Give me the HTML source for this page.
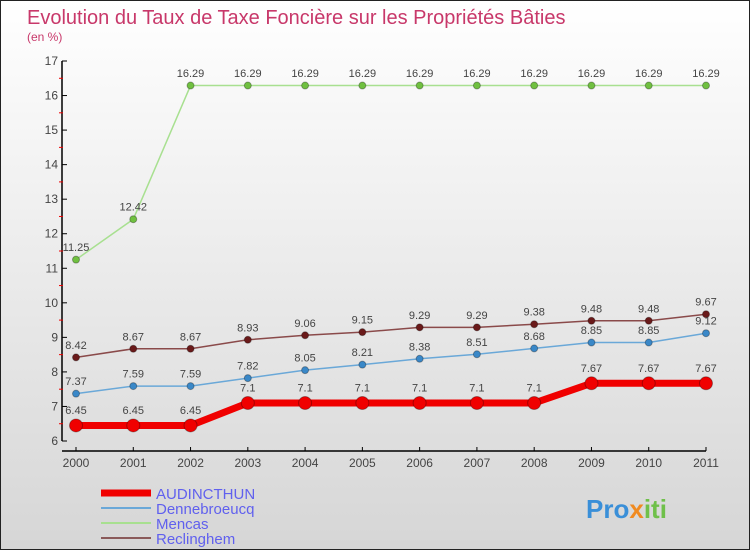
<!DOCTYPE html>
<html><head><meta charset="utf-8"><style>
body{margin:0}
#c{width:750px;height:550px;position:relative;background:linear-gradient(#ffffff,#d6d6d6);box-sizing:border-box;border:1px solid #222;font-family:"Liberation Sans",sans-serif}
</style></head><body>
<div id="c">
<svg id="s" width="750" height="550" style="position:absolute;left:0;top:0">
<text x="26" y="23" font-size="20" fill="#c8386a">Evolution du Taux de Taxe Foncière sur les Propriétés Bâties</text>
<text x="26" y="40" font-size="12" fill="#c8386a">(en %)</text>
<text x="585" y="517" font-size="26" font-weight="bold" fill="#3a8fd8">Pro<tspan fill="#f08a20">x</tspan><tspan fill="#6fc04a">iti</tspan></text>
</svg>
</div>
<script>
const years=["2000","2001","2002","2003","2004","2005","2006","2007","2008","2009","2010","2011"];
const yTicks=[6,7,8,9,10,11,12,13,14,15,16,17];
const audincthun=[6.45,6.45,6.45,7.1,7.1,7.1,7.1,7.1,7.1,7.67,7.67,7.67];
const dennebroeucq=[7.37,7.59,7.59,7.82,8.05,8.21,8.38,8.51,8.68,8.85,8.85,9.12];
const mencas=[11.25,12.42,16.29,16.29,16.29,16.29,16.29,16.29,16.29,16.29,16.29,16.29];
const reclinghem=[8.42,8.67,8.67,8.93,9.06,9.15,9.29,9.29,9.38,9.48,9.48,9.67];
const svg=document.getElementById('s');const NS='http://www.w3.org/2000/svg';
const X=i=>75+i*(630/(years.length-1));
const Y=v=>440-(v-6)*(380/11);
function mk(t,a,p){const e=document.createElementNS(NS,t);for(const k in a)e.setAttribute(k,a[k]);(p||svg).appendChild(e);return e;}
let e;
e=mk('line',{x1:61,y1:60,x2:61,y2:440,stroke:'#000','stroke-width':1.5});


e=mk('line',{x1:61,y1:450,x2:705,y2:450,stroke:'#000','stroke-width':1.5});


yTicks.forEach(v=>{mk('line',{x1:61,y1:Y(v),x2:66,y2:Y(v),stroke:'#000'});
 if(v<17)mk('line',{x1:58,y1:Y(v+0.5),x2:62,y2:Y(v+0.5),stroke:'#e00'});
 e=mk('text',{x:57,y:Y(v)+4,'font-size':12,fill:'#444','text-anchor':'end'});e.textContent=v;
 
 });
years.forEach((y,i)=>{mk('line',{x1:X(i),y1:446,x2:X(i),y2:450,stroke:'#000'});
 e=mk('text',{x:X(i),y:466,'font-size':12,fill:'#444','text-anchor':'middle'});e.textContent=y;
 
 });
function series(d,color,dot,w,r,name){
 e=mk('polyline',{points:d.map((v,i)=>X(i)+','+Y(v)).join(' '),fill:'none',stroke:color,'stroke-width':w});
 
 
 d.forEach((v,i)=>{e=mk('circle',{cx:X(i),cy:Y(v),r:r,fill:dot,stroke:'rgba(0,0,0,0.3)'});
  
  
  e=mk('text',{x:X(i),y:Y(v)-r-5,'font-size':11,fill:'#444','text-anchor':'middle'});e.textContent=v;
  
  });
}
series(mencas,'#a8e090','#70c040',1.5,3.5,'mencas');
series(reclinghem,'#8a4a4a','#6a1a1a',1.5,3.5,'reclinghem');
series(dennebroeucq,'#6aa8d8','#3a88c8',1.5,3.5,'dennebroeucq');
series(audincthun,'#f00000','#f00000',7,6.5,'audincthun');
const leg=[['AUDINCTHUN','#f00000',7],['Dennebroeucq','#6aa8d8',2],['Mencas','#a8e090',2],['Reclinghem','#8a5a5a',2]];
leg.forEach((l,i)=>{const y=492+i*15;
 e=mk('line',{x1:100,y1:y,x2:150,y2:y,stroke:l[1],'stroke-width':l[2]});
 
 
 e=mk('text',{x:155,y:y+6,'font-size':15,fill:'#6060ee'});e.textContent=l[0];
 
 });
</script>
</body></html>
